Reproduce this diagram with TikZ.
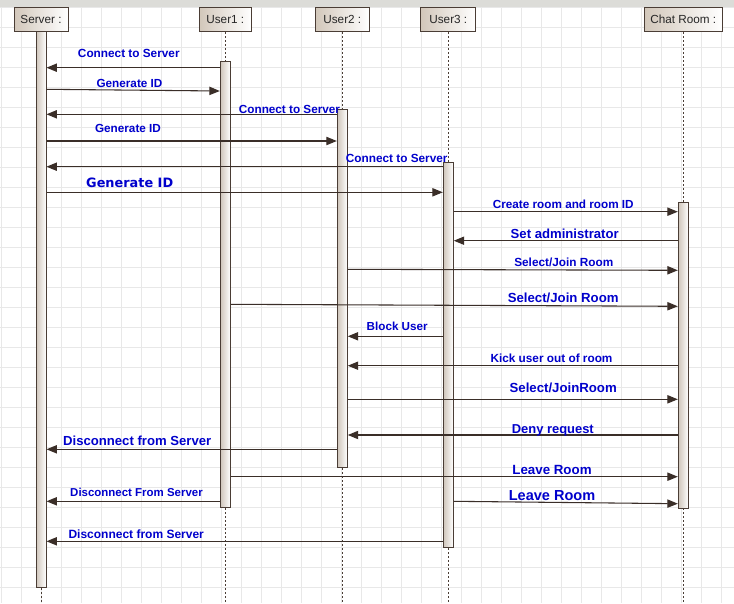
\documentclass[tikz,border=0pt]{standalone}
\usepackage{fontspec}
\setmainfont{Liberation Sans}
\newfontfamily\dvsfont{DejaVu Sans}
\usetikzlibrary{arrows.meta}
\definecolor{gridc}{HTML}{E8E8E8}
\definecolor{topbarc}{HTML}{DCDCD8}
\definecolor{edgec}{HTML}{4A3D35}
\definecolor{tanc}{HTML}{D2C7BA}
\definecolor{barc}{HTML}{CFC5BA}
\definecolor{lblue}{HTML}{0000CC}
\definecolor{msgc}{HTML}{3A2E28}
\newcommand{\lsz}[1]{\fontsize{#1}{#1}\selectfont\bfseries}
\begin{document}
\begin{tikzpicture}[x=0.75pt,y=-0.75pt,
  header/.style={draw=edgec, line width=0.75pt, left color=tanc, right color=white,
    minimum height=24.4*0.75pt, inner sep=0pt, font=\fontsize{8.8}{10}\selectfont, text=black!85},
  actbar/.style={draw=edgec, line width=0.75pt, left color=barc, right color=white,
    minimum width=10*0.75pt, inner sep=0pt},
  lifeline/.style={draw=edgec, line width=0.6pt, dash pattern=on 1.5pt off 1.5pt},
  msg/.style={draw=msgc, line width=0.8pt, -{Triangle[length=7.8pt,width=6.2pt]}},
  lbl/.style={text=lblue, anchor=base, inner sep=0pt}
]
\useasboundingbox (0,0) rectangle (734,603);
\fill[white] (0,0) rectangle (734,603);
% grid
\foreach \gx in {1.5,21.5,...,733.5} \draw[gridc, line width=0.75pt] (\gx,7) -- (\gx,603);
\foreach \gy in {7.5,27.5,...,603} \draw[gridc, line width=0.75pt] (0,\gy) -- (734,\gy);
\fill[topbarc] (0,0) rectangle (734,6.8);
% headers
\node[header, minimum width=54*0.75pt] (srvhead) at (41,19.5) {Server :};
\node[header, minimum width=52*0.75pt] (u1head) at (225.3,19.5) {User1 :};
\node[header, minimum width=54*0.75pt] (u2head) at (342.3,19.5) {User2 :};
\node[header, minimum width=55*0.75pt] (u3head) at (448.3,19.5) {User3 :};
\node[header, minimum width=78*0.75pt] (crhead) at (683.3,19.5) {Chat Room :};
% lifeline ends
\coordinate (srvend) at (41,603);
\coordinate (u1end) at (225.3,603);
\coordinate (u2end) at (342.3,603);
\coordinate (u3end) at (448.3,603);
\coordinate (crend) at (683.3,603);
\draw[lifeline] (srvhead.south) -- (srvend);
\draw[lifeline] (u1head.south) -- (u1end);
\draw[lifeline] (u2head.south) -- (u2end);
\draw[lifeline] (u3head.south) -- (u3end);
\draw[lifeline] (crhead.south) -- (crend);
% activation bars
\node[actbar, minimum height=556*0.75pt] (srvbar) at (41,309.3) {};
\node[actbar, minimum height=446*0.75pt] (u1bar) at (225.3,284.3) {};
\node[actbar, minimum height=358*0.75pt] (u2bar) at (342.3,288.3) {};
\node[actbar, minimum height=385.3*0.75pt] (u3bar) at (448.3,354.65) {};
\node[actbar, minimum height=306.4*0.75pt] (crbar) at (683.3,355.5) {};
% messages
\draw[msg] (u1bar.west |- 0,67.7) -- (srvbar.east |- 0,67.7);
\draw[msg] (srvbar.east |- 0,89.3) -- (u1bar.west |- 0,91);
\draw[msg] (u2bar.west |- 0,114.3) -- (srvbar.east |- 0,114.3);
\draw[msg] (srvbar.east |- 0,141) -- (u2bar.west |- 0,141);
\draw[msg] (u3bar.west |- 0,166.7) -- (srvbar.east |- 0,166.7);
\draw[msg] (srvbar.east |- 0,192.3) -- (u3bar.west |- 0,192.3);
\draw[msg] (u3bar.east |- 0,211.7) -- (crbar.west |- 0,211.7);
\draw[msg] (crbar.west |- 0,240.7) -- (u3bar.east |- 0,240.7);
\draw[msg] (u2bar.east |- 0,269.3) -- (crbar.west |- 0,270.3);
\draw[msg] (u1bar.east |- 0,304.3) -- (crbar.west |- 0,306.3);
\draw[msg] (u3bar.west |- 0,336.3) -- (u2bar.east |- 0,336.3);
\draw[msg] (crbar.west |- 0,365.7) -- (u2bar.east |- 0,365.7);
\draw[msg] (u2bar.east |- 0,399.3) -- (crbar.west |- 0,399.3);
\draw[msg] (crbar.west |- 0,435) -- (u2bar.east |- 0,435);
\draw[msg] (u2bar.west |- 0,449.3) -- (srvbar.east |- 0,449.3);
\draw[msg] (u1bar.east |- 0,476.7) -- (crbar.west |- 0,476.7);
\draw[msg] (u1bar.west |- 0,501.3) -- (srvbar.east |- 0,501.3);
\draw[msg] (u3bar.east |- 0,501.3) -- (crbar.west |- 0,503.7);
\draw[msg] (u3bar.west |- 0,541.3) -- (srvbar.east |- 0,541.3);
% labels
\node[lbl, font=\lsz{8.85}] (l1) at (128.8,57.5) {Connect to Server};
\node[lbl, font=\lsz{8.8}] (l2) at (129.5,87.3) {Generate ID};
\node[lbl, font=\lsz{8.8}] (l3) at (289.5,113.3) {Connect to Server};
\node[lbl, font=\lsz{8.8}] (l4) at (128,132.4) {Generate ID};
\node[lbl, font=\lsz{8.85}] (l5) at (396.7,162.7) {Connect to Server};
\node[lbl, font={\dvsfont\lsz{9.65}}] (l6) at (129.7,187.7) {Generate ID};
\node[lbl, font=\lsz{8.8}] (l7) at (563.3,208.5) {Create room and room ID};
\node[lbl, font=\lsz{9.85}] (l8) at (564.7,238.3) {Set administrator};
\node[lbl, font=\lsz{8.85}] (l9) at (563.8,266.3) {Select/Join Room};
\node[lbl, font=\lsz{9.9}] (l10) at (563.2,302.7) {Select/Join Room};
\node[lbl, font=\lsz{8.75}] (l11) at (397.2,330.7) {Block User};
\node[lbl, font=\lsz{8.85}] (l12) at (551.5,362.5) {Kick user out of room};
\node[lbl, font=\lsz{9.9}] (l13) at (563.2,392.3) {Select/JoinRoom};
\node[lbl, font=\lsz{9.7}] (l14) at (552.8,433) {Deny request};
\node[lbl, font=\lsz{9.85}] (l15) at (137.2,445) {Disconnect from Server};
\node[lbl, font=\lsz{10}] (l16) at (552,474) {Leave Room};
\node[lbl, font=\lsz{8.6}] (l17) at (136.5,496) {Disconnect From Server};
\node[lbl, font=\lsz{10.9}] (l18) at (552,500.3) {Leave Room};
\node[lbl, font=\lsz{9}] (l19) at (136.2,538.3) {Disconnect from Server};
\end{tikzpicture}
\end{document}
